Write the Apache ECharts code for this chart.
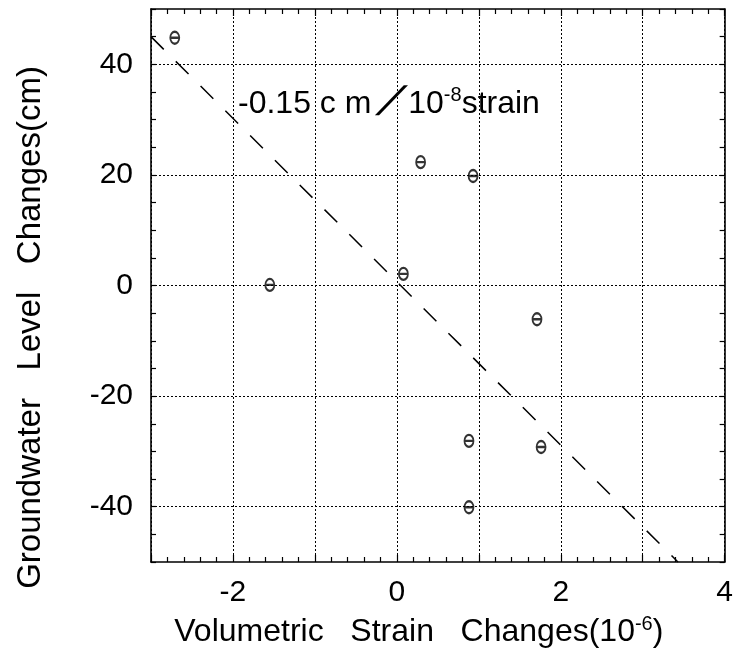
<!DOCTYPE html>
<html>
<head>
<meta charset="utf-8">
<script src="https://cdn.jsdelivr.net/npm/echarts@6/dist/echarts.min.js"></script>
<style>
html,body{margin:0;padding:0;background:#fff;}
#chart{width:736px;height:655px;}
</style>
</head>
<body>
<div id="chart"></div>
<script>
// Data
const strainX = [-2.71, -1.55, 0.08, 0.29, 0.93, 1.71, 0.88, 1.76, 0.88];
const levelY  = [44.8, 0.1, 2.1, 22.3, 19.8, -6.1, -28.1, -29.2, -40.1];
const fitX = [-3, 3.43];
const fitY = [45, -50];
const xLabelValues = [-2, 0, 2, 4];
const yLabelValues = [-40, -20, 0, 20, 40];
const yGridValues = [-40, -20, 0, 20, 40];
const xTitle = ['Volumetric   Strain   Changes(10', '-6', ')'];
const yTitle = 'Groundwater   Level   Changes(cm)';
const annot = ['-0.15 c m ', ' ', '10', '-8', 'strain'];
const annotSlash = '\u2571';

const FONT = 'Liberation Sans';
const chart = echarts.init(document.getElementById('chart'), null, {renderer: 'canvas'});

const tickStyle = {show: true, inside: true, length: 7, lineStyle: {color: '#000', width: 1.2}};
const minorStyle = {show: true, splitNumber: 5, length: 5, lineStyle: {color: '#000', width: 1.2}};
const axisLineStyle = {show: true, onZero: false, lineStyle: {color: '#000', width: 1.6}};
const yTickStyle = {show: true, inside: true, length: 5, lineStyle: {color: '#000', width: 1.2}};

const option = {
  backgroundColor: '#fff',
  animation: false,
  grid: {left: 151, right: 5, top: 9, bottom: 93, containLabel: false},
  xAxis: [
    {
      type: 'value', position: 'bottom', min: -3, max: 4, interval: 1,
      axisLine: axisLineStyle, axisTick: tickStyle, minorTick: minorStyle,
      splitLine: {show: true, lineStyle: {color: '#000', type: [2, 2], width: 1}},
      axisLabel: {
        margin: 16, color: '#000', fontSize: 30, fontFamily: FONT,
        formatter: v => xLabelValues.indexOf(v) >= 0 ? String(v) : ''
      },
      name: '{t|' + xTitle[0] + '}{s|' + xTitle[1] + '}{t|' + xTitle[2] + '}',
      nameLocation: 'middle', nameGap: 52,
      nameTextStyle: {
        padding: [0, 38, 0, 0],
        rich: {
          t: {fontSize: 32, fontFamily: FONT, color: '#000', lineHeight: 36},
          s: {fontSize: 20, fontFamily: FONT, color: '#000', verticalAlign: 'top', lineHeight: 20}
        }
      }
    },
    {
      type: 'value', position: 'top', min: -3, max: 4, interval: 1,
      axisLine: axisLineStyle, axisTick: tickStyle, minorTick: minorStyle,
      splitLine: {show: false}, axisLabel: {show: false}
    }
  ],
  yAxis: [
    {
      type: 'value', position: 'left', min: -50, max: 50, interval: 5,
      axisLine: axisLineStyle, axisTick: yTickStyle,
      splitLine: {show: false},
      axisLabel: {
        margin: 18, color: '#000', fontSize: 30, fontFamily: FONT,
        formatter: v => yLabelValues.indexOf(v) >= 0 ? String(v) : ''
      },
      name: yTitle, nameLocation: 'middle', nameGap: 104, nameRotate: 90,
      nameTextStyle: {fontSize: 33, fontFamily: FONT, color: '#000', padding: [0, 84, 0, 0]}
    },
    {
      type: 'value', position: 'right', min: -50, max: 50, interval: 5,
      axisLine: axisLineStyle, axisTick: yTickStyle,
      splitLine: {show: false}, axisLabel: {show: false}
    }
  ],
  graphic: [
    {
      type: 'text', left: 238, top: 85, silent: true,
      style: {
        text: '{a|' + annot[0] + '}{sl|' + annot[1] + '}{a|' + annot[2] + '}{s|' + annot[3] + '}{a|' + annot[4] + '}',
        rich: {
          a: {fontSize: 32, fontFamily: FONT, fill: '#000', lineHeight: 38},
          sl: {fontSize: 32, fontFamily: FONT, width: 28, lineHeight: 38},
          s: {fontSize: 20, fontFamily: FONT, fill: '#000', verticalAlign: 'top', lineHeight: 20}
        }
      }
    },
    {
      type: 'text', x: 377, y: 87, scaleX: 1.6, scaleY: 0.85, silent: true,
      style: {
        text: annotSlash, fontSize: 30, fontFamily: 'DejaVu Sans', fill: '#000',
        textVerticalAlign: 'top', verticalAlign: 'top', lineHeight: 35
      }
    }
  ],
  series: [
    {
      type: 'line', xAxisIndex: 0, yAxisIndex: 0,
      data: fitX.map((x, i) => [x, fitY[i]]),
      symbol: 'none', silent: true,
      lineStyle: {color: '#000', width: 1.5, type: [18, 17]},
      markLine: {
        silent: true, symbol: 'none', label: {show: false},
        lineStyle: {color: '#000', type: [2, 2], width: 1},
        data: yGridValues.map(v => ({yAxis: v}))
      },
      z: 3
    },
    {
      type: 'scatter', xAxisIndex: 0, yAxisIndex: 0,
      data: strainX.map((x, i) => [x, levelY[i]]),
      symbol: 'path://M0,5 A4,5 0 1,1 8,5 A4,5 0 1,1 0,5 Z M0,5 L8,5',
      symbolSize: [9, 12],
      itemStyle: {color: 'rgba(0,0,0,0)', borderColor: '#000', borderWidth: 2},
      z: 4
    }
  ]
};
chart.setOption(option);
</script>
</body>
</html>
